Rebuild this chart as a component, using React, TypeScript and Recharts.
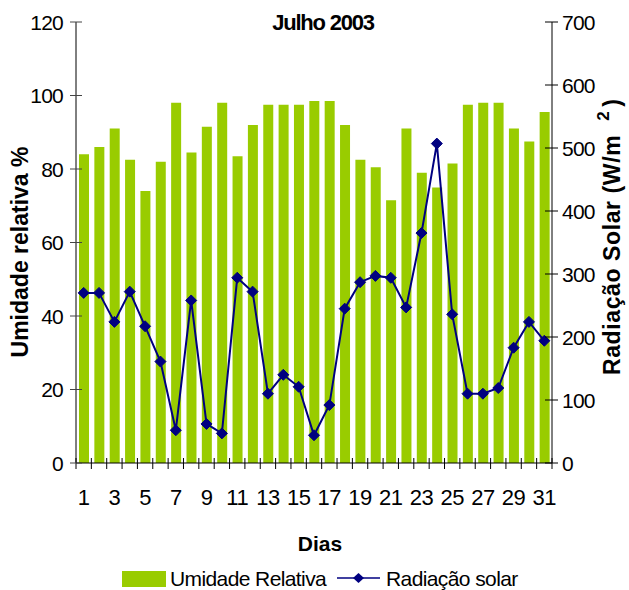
import React from 'react';
import { ComposedChart, Bar, Line, XAxis, YAxis } from 'recharts';

const days = ['1', '2', '3', '4', '5', '6', '7', '8', '9', '10', '11', '12', '13', '14', '15', '16',
  '17', '18', '19', '20', '21', '22', '23', '24', '25', '26', '27', '28', '29', '30', '31'];
const humidity = [84, 86, 91, 82.5, 74, 82, 98, 84.5, 91.5, 98, 83.5, 92, 97.5, 97.5, 97.5, 98.5,
  98.5, 92, 82.5, 80.5, 71.5, 91, 79, 75, 81.5, 97.5, 98, 98, 91, 87.5, 95.5];
const radiation = [270, 270, 224, 272, 217, 161, 52, 258, 62, 47, 294, 272, 110, 140, 121, 44,
  92, 245, 287, 297, 294, 247, 365, 507, 236, 110, 110, 119, 183, 224, 194];
const leftTicks = [0, 20, 40, 60, 80, 100, 120];
const rightTicks = [0, 100, 200, 300, 400, 500, 600, 700];

const data = days.map((d, i) => ({ day: d, umidade: humidity[i], radiacao: radiation[i] }));

const FONT = '"Liberation Sans", Arial, sans-serif';
const NAVY = '#000080';
const GREEN = '#99CC00';

function LeftTick(props: any) {
  const { x, y, payload } = props;
  return (
    <g>
      <line x1={x + 7} x2={x + 19} y1={y} y2={y} stroke="#444" />
      <text x={x} y={y} dy={7.5} textAnchor="end" fontSize={21} fontFamily={FONT} letterSpacing={-0.8} fill="#000">
        {payload.value}
      </text>
    </g>
  );
}

function RightTick(props: any) {
  const { x, y, payload } = props;
  return (
    <g>
      <line x1={x - 17} x2={x - 4} y1={y} y2={y} stroke="#000" />
      <text x={x} y={y} dy={7.5} textAnchor="start" fontSize={21} fontFamily={FONT} letterSpacing={-0.8} fill="#000">
        {payload.value}
      </text>
    </g>
  );
}

function DayTick(props: any) {
  const { x, y, payload, index } = props;
  const half = payload.offset || (629 - 76 - 77) / 31 / 2;
  return (
    <g>
      <line x1={x - half} x2={x - half} y1={y - 5} y2={y + 6} stroke="#000" />
      {index === days.length - 1 && (
        <line x1={x + half} x2={x + half} y1={y - 5} y2={y + 6} stroke="#000" />
      )}
      {index % 2 === 0 && (
        <text x={x} y={y} dy={42} textAnchor="middle" fontSize={22} fontFamily={FONT} letterSpacing={-0.5} fill="#000">
          {payload.value}
        </text>
      )}
    </g>
  );
}

function Diamond(props: any) {
  const { cx, cy } = props;
  if (cx == null || cy == null) return null;
  const r = 5.5;
  return (
    <polygon
      points={`${cx},${cy - r} ${cx + r},${cy} ${cx},${cy + r} ${cx - r},${cy}`}
      fill={NAVY}
      stroke={NAVY}
    />
  );
}

export default function App() {
  return (
    <div style={{ position: 'absolute', left: 0, top: 0, width: 629, height: 590, background: '#fff' }}>
      <ComposedChart width={629} height={590} data={data} margin={{ top: 22, right: 0, bottom: 0, left: 0 }}>
        <XAxis
          dataKey="day"
          height={127}
          interval={0}
          tickSize={0}
          tickMargin={0}
          tickLine={false}
          axisLine={{ stroke: '#000' }}
          tick={<DayTick />}
        />
        <YAxis
          yAxisId="left"
          width={76}
          domain={[0, 120]}
          ticks={leftTicks}
          tickLine={false}
          tickSize={0}
          tickMargin={13}
          axisLine={{ stroke: '#000' }}
          tick={<LeftTick />}
        />
        <YAxis
          yAxisId="right"
          orientation="right"
          width={77}
          domain={[0, 700]}
          ticks={rightTicks}
          tickLine={false}
          tickSize={0}
          tickMargin={10}
          axisLine={{ stroke: '#000' }}
          tick={<RightTick />}
        />
        <Bar yAxisId="left" dataKey="umidade" fill={GREEN} barSize={10} isAnimationActive={false} />
        <Line
          yAxisId="right"
          dataKey="radiacao"
          type="linear"
          stroke={NAVY}
          strokeWidth={2}
          dot={<Diamond />}
          activeDot={false}
          isAnimationActive={false}
        />
      </ComposedChart>
      <svg width={629} height={590} style={{ position: 'absolute', left: 0, top: 0, pointerEvents: 'none' }}>
        <text x={323} y={30} textAnchor="middle" fontSize={22} fontWeight="bold" fontFamily={FONT} letterSpacing={-1.2}>
          Julho 2003
        </text>
        <text
          transform="translate(28,252) rotate(-90)"
          textAnchor="middle"
          fontSize={23}
          fontWeight="bold"
          fontFamily={FONT}
        >
          Umidade relativa %
        </text>
        <text
          transform="translate(620,375) rotate(-90)"
          textAnchor="start"
          fontSize={23}
          fontWeight="bold"
          fontFamily={FONT}
          letterSpacing={0.6}
        >
          Radiação Solar (W/m<tspan dx={14} dy={-11} fontSize={17}>2</tspan><tspan dx={4} dy={11}>)</tspan>
        </text>
        <text x={320} y={551} textAnchor="middle" fontSize={21} fontWeight="bold" fontFamily={FONT}>
          Dias
        </text>
        <rect x={122} y={571} width={44} height={16} fill={GREEN} />
        <text x={170} y={586} fontSize={21} fontFamily={FONT} letterSpacing={-0.6}>
          Umidade Relativa
        </text>
        <line x1={337} x2={380} y1={578} y2={578} stroke={NAVY} strokeWidth={1.5} />
        <polygon points="358.5,573 364,578 358.5,583 353,578" fill={NAVY} />
        <text x={386} y={586} fontSize={21} fontFamily={FONT} letterSpacing={-0.6}>
          Radiação solar
        </text>
      </svg>
    </div>
  );
}
